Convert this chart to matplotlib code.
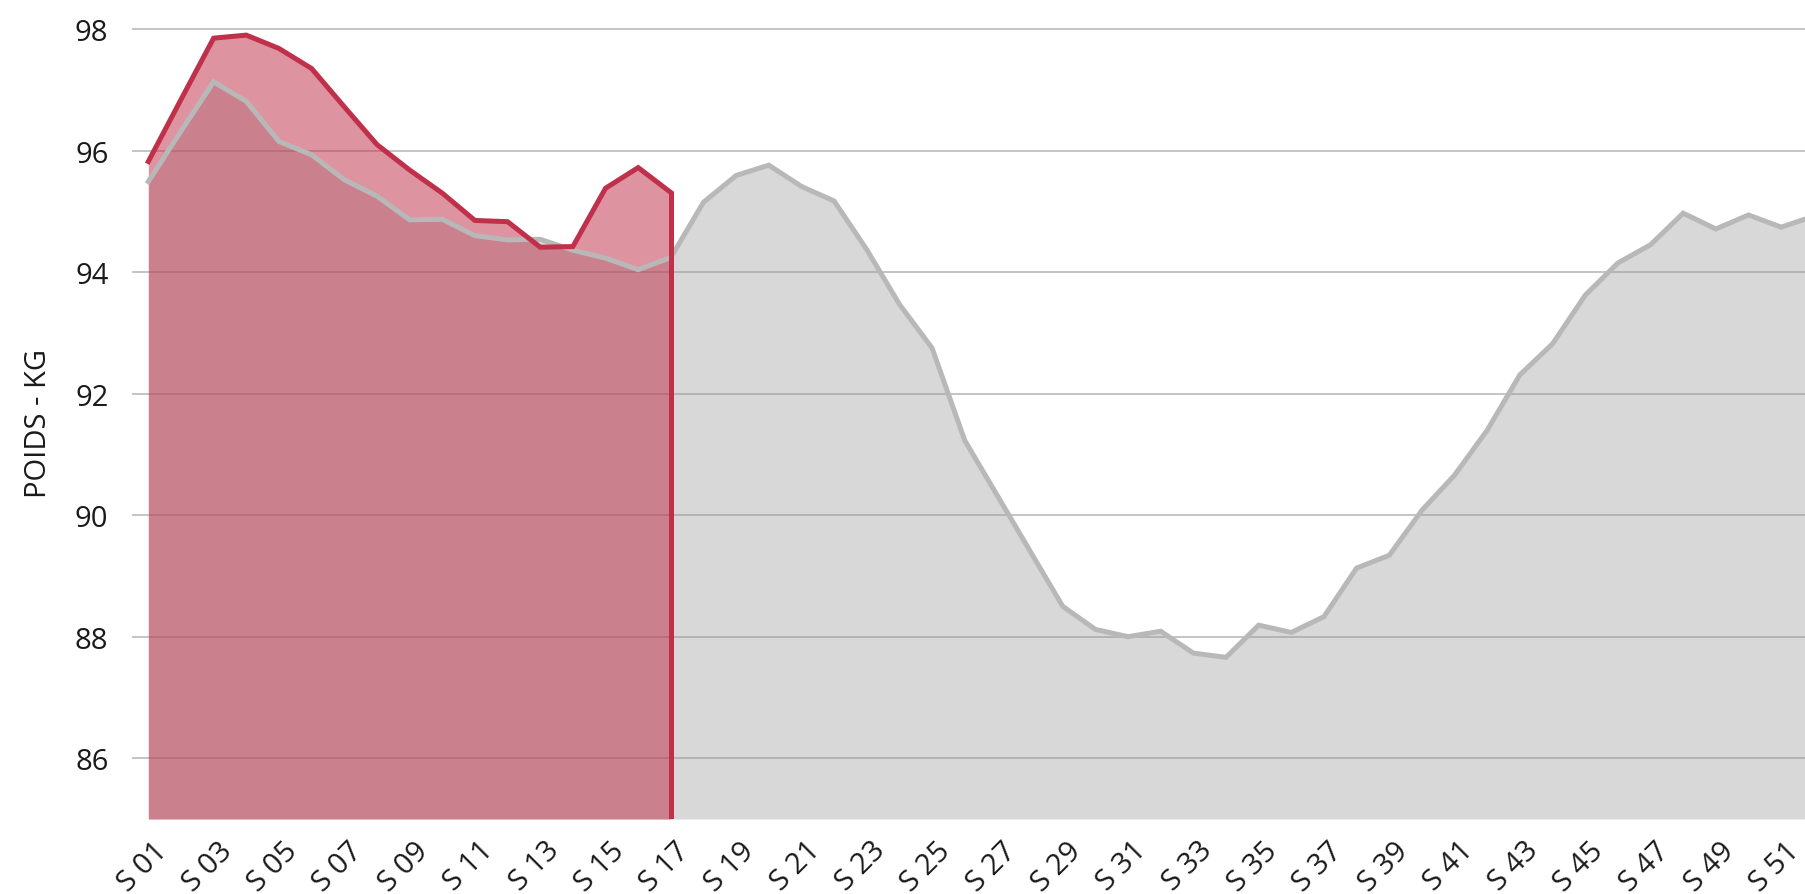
import matplotlib
matplotlib.use('Agg')
import matplotlib.pyplot as plt
import matplotlib.transforms as mtransforms

plt.rcParams['font.family'] = ['Open Sans', 'DejaVu Sans']

# weekly weight, previous year (grey) and current year (red)
weeks = list(range(1, 53))
poids_prec = [95.49, 96.32, 97.13, 96.81, 96.15, 95.93, 95.52, 95.25, 94.86, 94.87,
              94.60, 94.53, 94.54, 94.36, 94.23, 94.04, 94.24, 95.15, 95.59, 95.76,
              95.41, 95.17, 94.37, 93.47, 92.75, 91.23, 90.32, 89.41, 88.50, 88.12,
              88.00, 88.09, 87.73, 87.66, 88.19, 88.07, 88.33, 89.13, 89.34, 90.08,
              90.66, 91.40, 92.31, 92.82, 93.62, 94.15, 94.45, 94.97, 94.71, 94.94,
              94.74, 94.92]
poids_actuel = [95.82, 96.84, 97.85, 97.90, 97.68, 97.35, 96.72, 96.10, 95.68, 95.30,
                94.85, 94.83, 94.41, 94.42, 95.38, 95.72, 95.31]
weeks_actuel = weeks[:len(poids_actuel)]

tick_weeks = list(range(1, 53, 2))
tick_labels = ['S %02d' % w for w in tick_weeks]
y_ticks = [86, 88, 90, 92, 94, 96, 98]

red = '#C0304A'
y_min, y_max = 85, 98.05
fs = 21

fig = plt.figure(figsize=(18.05, 8.95), dpi=100)
ax = fig.add_axes([132 / 1805, 75 / 895, 1 - 132 / 1805, (820 - 27) / 895])

ax.fill_between(weeks, poids_prec, y_min, color='#9A9A9A', alpha=0.38, linewidth=0, zorder=2)
ax.fill_between(weeks_actuel, poids_actuel, y_min, color=red, alpha=0.52, linewidth=0, zorder=3)
ax.plot(weeks, poids_prec, color='#B8B8B8', linewidth=3.6, zorder=4, solid_joinstyle='miter')
ax.plot(weeks_actuel, poids_actuel, color=red, linewidth=3.6, zorder=5, solid_joinstyle='miter')
# drop of the current year line down to the axis
ax.vlines(weeks_actuel[-1], y_min - 1, poids_actuel[-1], color=red, linewidth=3.6, zorder=5)

ax.set_xlim(0.5, 51.73)
ax.set_ylim(y_min, y_max)
ax.set_yticks(y_ticks)
ax.set_yticklabels([str(v) for v in y_ticks])
ax.set_xticks(tick_weeks)
ax.set_xticklabels(tick_labels, rotation=45, ha='right', va='top', rotation_mode='anchor')
ax.grid(axis='y', color='#BFBFBF', linewidth=1.3, zorder=1)
ax.set_axisbelow(True)
ax.tick_params(axis='both', length=0, labelsize=fs, colors='#1A1A1A')
ax.tick_params(axis='y', pad=17)
ax.tick_params(axis='x', pad=12)
for spine in ax.spines.values():
    spine.set_visible(False)

shift = mtransforms.ScaledTranslation(4 / 100, 0, fig.dpi_scale_trans)
for lab in ax.get_xticklabels():
    lab.set_transform(lab.get_transform() + shift)

ax.set_ylabel('POIDS - KG', fontsize=fs, color='#1A1A1A', labelpad=16)

fig.savefig('out.png', dpi=100)
